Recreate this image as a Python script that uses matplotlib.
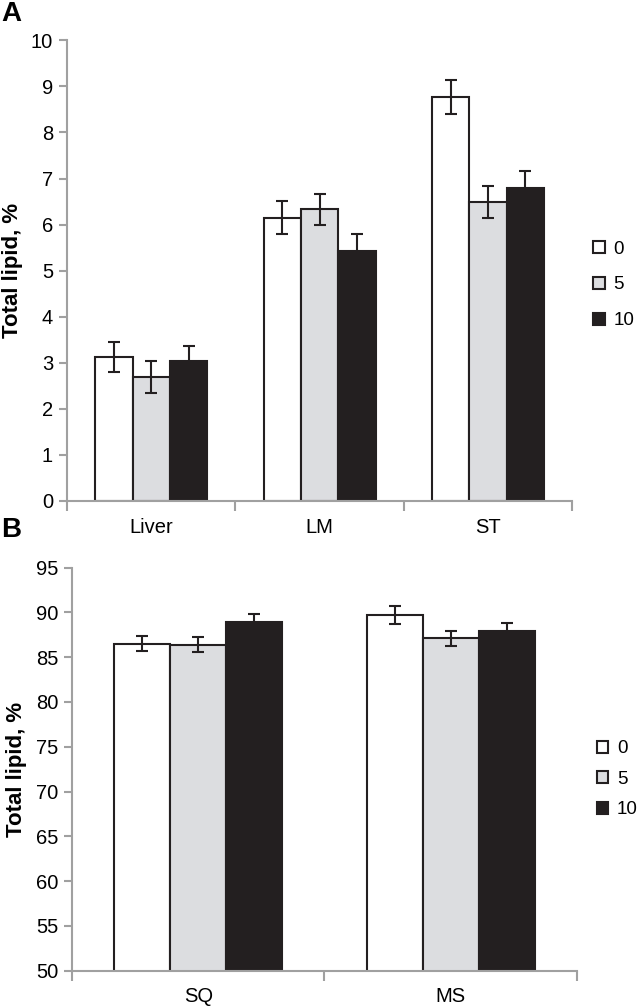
import matplotlib.pyplot as plt
import numpy as np
from matplotlib.patches import Patch

plt.rcParams['font.family'] = ['Liberation Sans', 'DejaVu Sans']

levels = ['0', '5', '10']
colors = ['#ffffff', '#dcdde0', '#231f20']

tissues_a = ['Liver', 'LM', 'ST']
means_a = [[3.13, 6.15, 8.77],
           [2.69, 6.33, 6.49],
           [3.04, 5.43, 6.80]]
errs_a = [[0.33, 0.36, 0.36],
          [0.34, 0.34, 0.35],
          [0.33, 0.36, 0.36]]

tissues_b = ['SQ', 'MS']
means_b = [[86.5, 89.7],
           [86.4, 87.1],
           [88.9, 87.9]]
errs_b = [[0.85, 0.95],
          [0.85, 0.85],
          [0.9, 0.95]]

spine_col = '#a0a0a0'


def draw_panel(ax, cats, means, errs, ylim, yticks, leg_x, leg_y, leg_space):
    x = np.arange(len(cats))
    w = 0.222
    for i in range(3):
        ax.bar(x + (i - 1) * w, means[i], w,
               color=colors[i], edgecolor='#231f20', linewidth=1.5, zorder=2)
        ax.errorbar(x + (i - 1) * w, means[i], yerr=errs[i], fmt='none',
                    ecolor='#231f20', elinewidth=1.5, capsize=4, capthick=1.5,
                    zorder=3)
    ax.set_xlim(-0.5, len(cats) - 0.5)
    ax.set_ylim(*ylim)
    ax.set_yticks(yticks)
    ax.set_xticks(x)
    ax.set_xticklabels(cats, fontsize=14.5)
    ax.set_xticks(np.arange(len(cats) + 1) - 0.5, minor=True)
    ax.tick_params(axis='x', which='major', length=0, pad=12)
    ax.tick_params(axis='x', which='minor', length=7, color=spine_col, width=1.5)
    ax.tick_params(axis='y', length=6, color=spine_col, width=1.5,
                   labelsize=14.5, pad=4)
    for s in ['top', 'right']:
        ax.spines[s].set_visible(False)
    for s in ['left', 'bottom']:
        ax.spines[s].set_color(spine_col)
        ax.spines[s].set_linewidth(1.5)
    ax.set_ylabel('Total lipid, %', fontsize=16, fontweight='bold', labelpad=6)
    handles = [Patch(facecolor=colors[i], edgecolor='#231f20', linewidth=1.5,
                     label=levels[i]) for i in range(3)]
    ax.legend(handles=handles, loc='center left', bbox_to_anchor=(leg_x, leg_y),
              frameon=False, fontsize=13.5, handlelength=0.62, handleheight=0.62,
              handletextpad=0.45, labelspacing=leg_space, borderaxespad=0,
              borderpad=0.1)


fig = plt.figure(figsize=(6.38, 10.08), dpi=100)
ax_a = fig.add_axes([0.105, 0.503, 0.792, 0.457])
ax_b = fig.add_axes([0.113, 0.037, 0.791, 0.400])

draw_panel(ax_a, tissues_a, means_a, errs_a, (0, 10), range(0, 11),
           1.038, 0.469, 1.0)
draw_panel(ax_b, tissues_b, means_b, errs_b, (50, 95), range(50, 96, 5),
           1.036, 0.475, 0.72)

fig.text(0.002, 0.999, 'A', fontsize=20, fontweight='bold', va='top')
fig.text(0.002, 0.487, 'B', fontsize=20, fontweight='bold', va='top')

plt.savefig('out.png', dpi=100)
